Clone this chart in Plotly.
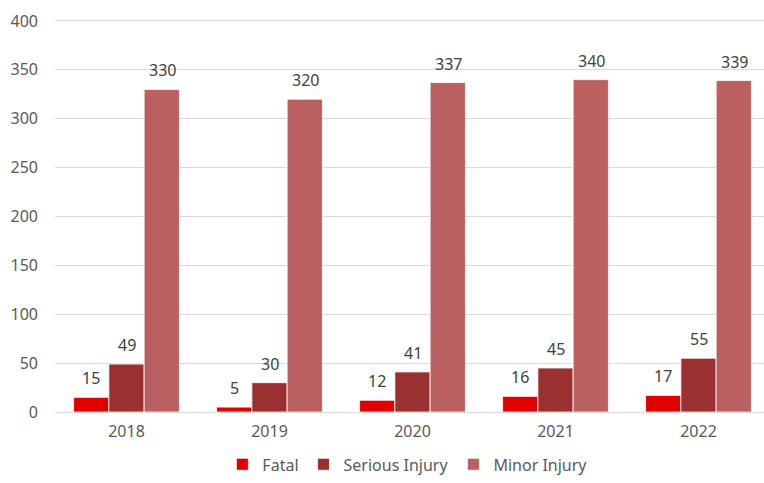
import plotly.graph_objects as go

years = ["2018", "2019", "2020", "2021", "2022"]
fatal = [15, 5, 12, 16, 17]
serious = [49, 30, 41, 45, 55]
minor = [330, 320, 337, 340, 339]

series = [
    ("Fatal", fatal, "#E00000"),
    ("Serious Injury", serious, "#9B3030"),
    ("Minor Injury", minor, "#BB6060"),
]

FONT = "Noto Sans"
TEXT_COLOR = "#404040"
AXIS_COLOR = "#595959"

fig = go.Figure()
for name, vals, color in series:
    fig.add_trace(go.Bar(
        name=name, x=years, y=vals,
        marker=dict(color=color, line=dict(color="white", width=0.8)),
    ))

# value labels above each bar
shifts = [-35.5, 0, 35.5]
annotations = []
for (name, vals, color), dx in zip(series, shifts):
    for i, v in enumerate(vals):
        annotations.append(dict(
            x=i, y=v, xref="x", yref="y", text=str(v), showarrow=False,
            xshift=dx, yshift=19, font=dict(family=FONT, size=16, color=TEXT_COLOR),
        ))

fig.update_layout(
    width=764, height=483,
    margin=dict(l=55, r=0, t=19, b=71, autoexpand=False),
    paper_bgcolor="white", plot_bgcolor="white",
    barmode="group", bargap=0.26, bargroupgap=0,
    font=dict(family=FONT, size=16, color=AXIS_COLOR),
    annotations=annotations,
    showlegend=True,
    legend=dict(
        orientation="h", x=0.497, xanchor="center", y=-0.09, yanchor="top",
        font=dict(family=FONT, size=16, color=AXIS_COLOR),
        traceorder="normal", itemwidth=30,
    ),
)
fig.update_xaxes(
    type="category", range=[-0.5, 4.458],
    showgrid=False, showline=False, ticks="", ticklabelstandoff=8,
    tickfont=dict(family=FONT, size=16, color=AXIS_COLOR),
)
fig.update_yaxes(
    range=[0, 402], tickvals=[0, 50, 100, 150, 200, 250, 300, 350, 400],
    showgrid=True, gridcolor="#D9D9D9", gridwidth=1,
    zeroline=True, zerolinecolor="#D9D9D9", zerolinewidth=1,
    showline=False, ticks="", ticklabelstandoff=16,
    tickfont=dict(family=FONT, size=16, color=AXIS_COLOR),
)

fig.write_html("out.html")
